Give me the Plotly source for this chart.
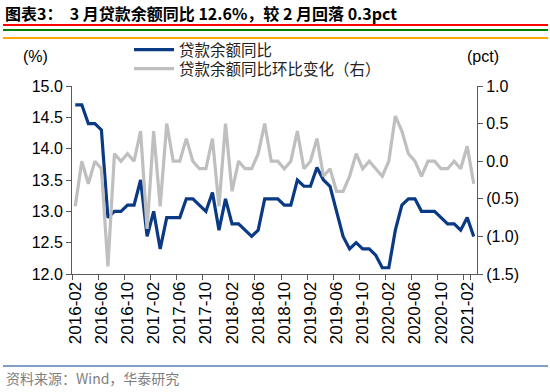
import plotly.graph_objects as go

months = []
for y in range(2016, 2022):
    for m in range(1, 13):
        if (y == 2016 and m < 2) or (y == 2021 and m > 3):
            continue
        months.append(f"{y}-{m:02d}")

loan_yoy = [
    14.7, 14.7, 14.4, 14.4, 14.3, 12.9, 13.0, 13.0, 13.1, 13.1, 13.5,
    12.6, 13.0, 12.4, 12.9, 12.9, 12.9, 13.2, 13.2, 13.1, 13.0, 13.3, 12.7,
    13.2, 12.8, 12.8, 12.7, 12.6, 12.7, 13.2, 13.2, 13.2, 13.1, 13.1, 13.5,
    13.4, 13.4, 13.7, 13.5, 13.4, 13.0, 12.6, 12.4, 12.5, 12.4, 12.4, 12.3,
    12.1, 12.1, 12.7, 13.1, 13.2, 13.2, 13.0, 13.0, 13.0, 12.9, 12.8, 12.8,
    12.7, 12.9, 12.6,
]
loan_yoy_chg = [
    -0.6, 0.0, -0.3, 0.0, -0.1, -1.4, 0.1, 0.0, 0.1, 0.0, 0.4,
    -0.9, 0.4, -0.6, 0.5, 0.0, 0.0, 0.3, 0.0, -0.1, -0.1, 0.3, -0.6,
    0.5, -0.4, 0.0, -0.1, -0.1, 0.1, 0.5, 0.0, 0.0, -0.1, 0.0, 0.4,
    -0.1, 0.0, 0.3, -0.2, -0.1, -0.4, -0.4, -0.2, 0.1, -0.1, 0.0, -0.1,
    -0.2, 0.0, 0.6, 0.4, 0.1, 0.0, -0.2, 0.0, 0.0, -0.1, -0.1, 0.0,
    -0.1, 0.2, -0.3,
]
x_tick_labels = months[::4]
y2_tick_vals = [-1.5, -1.0, -0.5, 0.0, 0.5, 1.0]
y2_tick_text = ["(1.5)", "(1.0)", "(0.5)", "0.0", "0.5", "1.0"]

series_names = ["贷款余额同比", "贷款余额同比环比变化（右）"]
title_text = "图表3：  3 月贷款余额同比 12.6%，较 2 月回落 0.3pct"
source_text = "资料来源：Wind，华泰研究"

FONT = "Liberation Sans, Arial, Noto Sans CJK SC, sans-serif"
CJK = "Noto Sans CJK SC, Liberation Sans, sans-serif"

L, T, W, H = 72, 86, 405, 188  # plot area in px

def px(xp):
    return (xp - L) / W

def py(yp):
    return (T + H - yp) / H

fig = go.Figure()
fig.add_trace(go.Scatter(x=months, y=loan_yoy, name=series_names[0], mode="lines",
                         line=dict(color="#0B3A84", width=3.2), legend="legend"))
fig.add_trace(go.Scatter(x=months, y=loan_yoy_chg, name=series_names[1], mode="lines",
                         line=dict(color="#BFBFBF", width=3.2), yaxis="y2",
                         legend="legend2"))

axis_color = "#595959"
tick_font = dict(family=FONT, size=16, color="black")
legend_common = dict(xanchor="left", yanchor="middle",
                     font=dict(family=CJK, size=15.5, color="#222"),
                     bgcolor="rgba(0,0,0,0)", itemwidth=40)
rule_color = "#5B7FB5"
fig.update_layout(
    width=550, height=392,
    margin=dict(l=L, r=550 - L - W, t=T, b=392 - T - H, autoexpand=False),
    paper_bgcolor="white", plot_bgcolor="white",
    font=dict(family=FONT, size=15, color="black"),
    showlegend=True,
    legend=dict(x=px(129), y=py(50), **legend_common),
    legend2=dict(x=px(129), y=py(69), **legend_common),
    xaxis=dict(type="category", range=[-0.5, len(months) - 0.5],
               tickmode="array", tickvals=x_tick_labels, ticktext=x_tick_labels,
               tickson="boundaries", ticks="outside", ticklen=5, tickcolor=axis_color,
               tickangle=-90, tickfont=dict(family=FONT, size=17, color="black"),
               automargin=False,
               showline=True, linecolor=axis_color, linewidth=1, showgrid=False,
               zeroline=False),
    yaxis=dict(range=[12, 15], dtick=0.5, tick0=12, tickformat=".1f",
               ticks="outside", ticklen=5, tickcolor=axis_color, automargin=False,
               showline=True, linecolor=axis_color, linewidth=1, showgrid=False,
               zeroline=False, tickfont=tick_font),
    yaxis2=dict(range=[-1.5, 1.0], overlaying="y", side="right",
                tickmode="array", tickvals=y2_tick_vals, ticktext=y2_tick_text,
                ticks="outside", ticklen=5, tickcolor=axis_color, automargin=False,
                showline=True, linecolor=axis_color, linewidth=1, showgrid=False,
                zeroline=False, tickfont=tick_font),
    annotations=[
        dict(text=f"<b>{title_text}</b>", xref="paper", yref="paper",
             x=px(3), y=py(13), xanchor="left", yanchor="middle",
             showarrow=False, font=dict(family=CJK, size=16, color="black")),
        dict(text=source_text, xref="paper", yref="paper",
             x=px(4), y=py(378), xanchor="left", yanchor="middle",
             showarrow=False, font=dict(family=CJK, size=14, color="#7F7F7F")),
        dict(text="(%)", xref="paper", yref="paper",
             x=px(35), y=py(56), xanchor="center", yanchor="middle",
             showarrow=False, font=dict(family=FONT, size=16, color="black")),
        dict(text="(pct)", xref="paper", yref="paper",
             x=px(483), y=py(56), xanchor="center", yanchor="middle",
             showarrow=False, font=dict(family=FONT, size=16, color="black")),
    ],
)
# diagnostic rules at several heights
for yy, c in [(25, "red"), (30, "green"), (38, "orange")]:
    fig.add_shape(type="line", xref="paper", yref="paper", x0=px(3), x1=px(548),
                  y0=py(yy), y1=py(yy), line=dict(color=c, width=2))
fig.add_shape(type="line", xref="paper", yref="paper", x0=px(3), x1=px(548),
              y0=py(366), y1=py(366), line=dict(color=rule_color, width=1.5))

fig.write_html("out.html", config={"displayModeBar": False},
               post_script="document.body.style.margin='0';document.body.style.padding='0';")
